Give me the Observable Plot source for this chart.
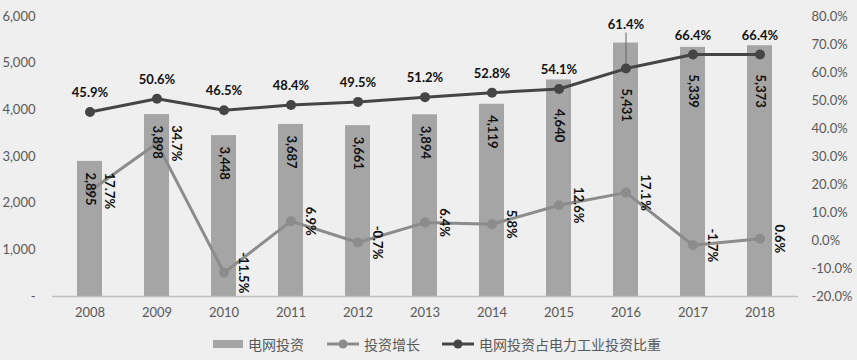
<!DOCTYPE html>
<html>
<head>
<meta charset="utf-8">
<script src="https://cdn.jsdelivr.net/npm/d3@7"></script>
<script src="https://cdn.jsdelivr.net/npm/@observablehq/plot@0.6"></script>
<style>
  html, body { margin: 0; padding: 0; background: #efefef; }
  #wrap { position: relative; width: 857px; height: 360px; background: #efefef; overflow: hidden; }
  #legend { position: absolute; left: 0; top: 332px; width: 857px; height: 24px;
    font-family: "Noto Sans CJK SC", sans-serif; font-size: 14px; color: #595959; }
  .item { position: absolute; top: 0; display: flex; align-items: center; height: 24px; }
  .item svg { margin-right: 5px; }
</style>
</head>
<body>
<div id="wrap"><div id="chart"></div><div id="legend"></div></div>
<script>
const years = ["2008","2009","2010","2011","2012","2013","2014","2015","2016","2017","2018"];
const investment = [2895, 3898, 3448, 3687, 3661, 3894, 4119, 4640, 5431, 5339, 5373];
const growth = [17.7, 34.7, -11.5, 6.9, -0.7, 6.4, 5.8, 12.6, 17.1, -1.7, 0.6];
const share = [45.9, 50.6, 46.5, 48.4, 49.5, 51.2, 52.8, 54.1, 61.4, 66.4, 66.4];
const leftTicks = [0, 1000, 2000, 3000, 4000, 5000, 6000];
const rightTicks = [-20, -10, 0, 10, 20, 30, 40, 50, 60, 70, 80];
const seriesNames = ["电网投资", "投资增长", "电网投资占电力工业投资比重"];

// map percent (right axis, -20..80) onto left axis domain (0..6000)
const pct = v => (v + 20) / 100 * 6000;

const H = 330, MT = 16, MB = 34;
const u = 6000 / (H - MT - MB); // data units per pixel

const rows = years.map((y, i) => ({year: y, inv: investment[i], g: growth[i], s: share[i]}));

const numFont = "Lato, 'Open Sans', sans-serif";
const barColor = "#a5a5a5", growthColor = "#8c8c8c", shareColor = "#454545", axisText = "#595959";

// bar value labels sit inside the bar top, but below the share line if it crosses the bar
const barLabelY = d => Math.min(d.inv - 11 * u, pct(d.s) - 20 * u);
// share labels sit above the point, or above the bar (with a leader) if the bar would hide them
const shareLabelY = d => {
  const above = pct(d.s) + 19 * u;
  return above < d.inv ? d.inv + 18 * u : above;
};
const leaders = rows.filter(d => shareLabelY(d) !== pct(d.s) + 19 * u);

const chart = Plot.plot({
  width: 857,
  height: H,
  marginLeft: 52,
  marginRight: 59,
  marginTop: MT,
  marginBottom: MB,
  style: {background: "#efefef", fontFamily: numFont, fontSize: "13px", color: axisText},
  x: {type: "band", domain: years, paddingInner: 0.62, paddingOuter: 0.31},
  y: {domain: [0, 6000]},
  marks: [
    Plot.barY(rows, {x: "year", y: "inv", fill: barColor}),
    Plot.ruleY([0], {stroke: "#bfbfbf", strokeWidth: 1.5}),
    Plot.axisX({tickSize: 0, tickPadding: 11, fontSize: 13, label: null, fill: axisText}),
    Plot.axisY({anchor: "left", ticks: leftTicks, tickSize: 0, tickPadding: 17, label: null,
      tickFormat: d => d === 0 ? "-" : d3.format(",")(d), fill: axisText}),
    Plot.axisY({anchor: "right", ticks: rightTicks.map(pct), tickSize: 0, tickPadding: 13, label: null,
      tickFormat: d => (Math.round(d / 60) - 20).toFixed(1) + "%", fill: axisText}),
    Plot.ruleX(leaders, {x: "year", y1: d => shareLabelY(d) - 8 * u, y2: d => pct(d.s), stroke: "#666", strokeWidth: 1}),
    Plot.line(rows, {x: "year", y: d => pct(d.g), stroke: growthColor, strokeWidth: 3}),
    Plot.dot(rows, {x: "year", y: d => pct(d.g), r: 5, fill: growthColor}),
    Plot.line(rows, {x: "year", y: d => pct(d.s), stroke: shareColor, strokeWidth: 3}),
    Plot.dot(rows, {x: "year", y: d => pct(d.s), r: 5, fill: shareColor}),
    Plot.text(rows, {x: "year", y: barLabelY, text: d => d3.format(",")(d.inv), rotate: 90,
      textAnchor: "start", fontWeight: "bold", fontSize: 13, fill: "#111"}),
    Plot.text(rows, {x: "year", y: d => pct(d.g), text: d => d.g.toFixed(1) + "%", rotate: 90,
      textAnchor: "middle", dx: 19, fontWeight: "bold", fontSize: 13, fill: "#111"}),
    Plot.text(rows, {x: "year", y: shareLabelY, text: d => d.s.toFixed(1) + "%",
      fontWeight: "bold", fontSize: 13, fill: "#111"})
  ]
});
document.getElementById("chart").appendChild(chart);

// legend
const legend = document.getElementById("legend");
const items = [
  {name: seriesNames[0], left: 213, type: "bar", color: barColor},
  {name: seriesNames[1], left: 327, type: "line", color: growthColor},
  {name: seriesNames[2], left: 442, type: "line", color: shareColor}
];
items.forEach(it => {
  const div = document.createElement("div");
  div.className = "item";
  div.style.left = it.left + "px";
  const sw = it.type === "bar"
    ? `<svg width="30" height="12"><rect x="0" y="2" width="30" height="8" fill="${it.color}"/></svg>`
    : `<svg width="32" height="12"><line x1="0" x2="32" y1="6" y2="6" stroke="${it.color}" stroke-width="3"/><circle cx="16" cy="6" r="4.5" fill="${it.color}"/></svg>`;
  div.innerHTML = sw + `<span>${it.name}</span>`;
  legend.appendChild(div);
});
</script>
</body>
</html>
